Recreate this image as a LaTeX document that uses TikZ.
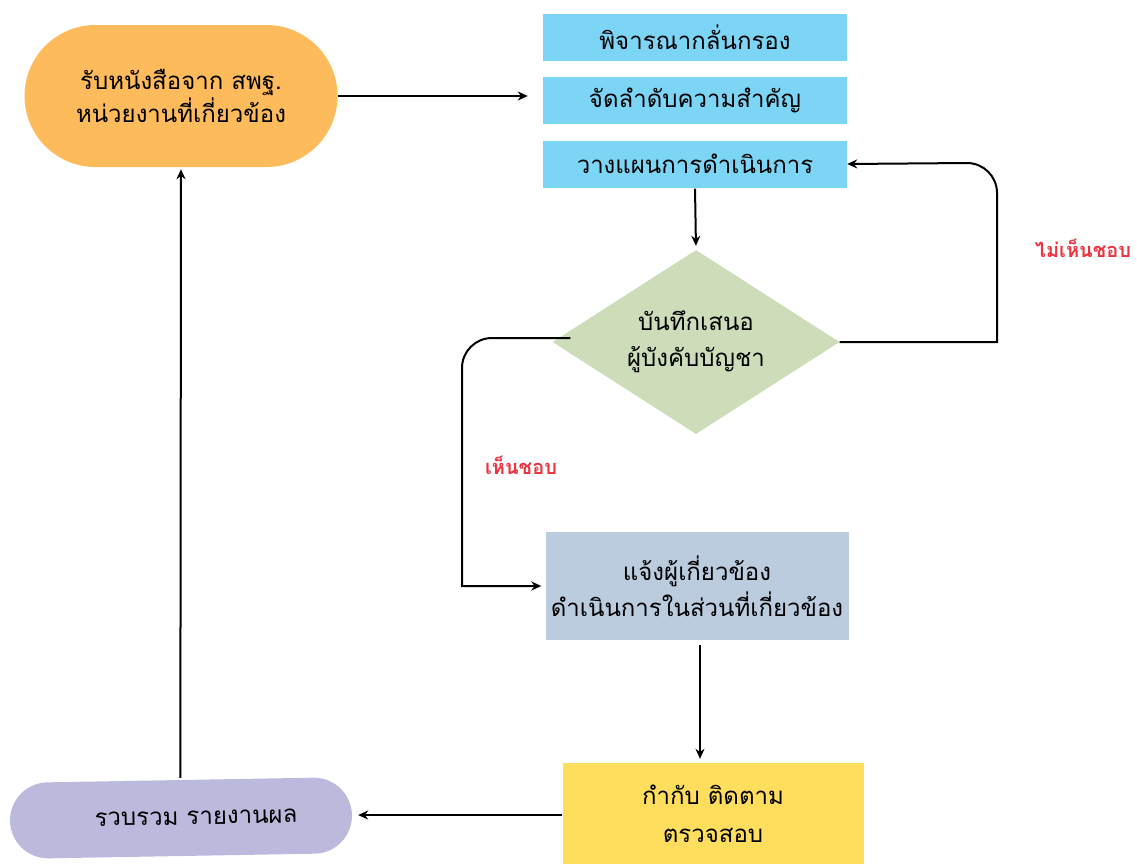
\documentclass[tikz,border=0pt]{standalone}
\usepackage{fontspec}
\setmainfont[Script=Thai]{Loma}
\usetikzlibrary{shapes.geometric, arrows.meta}
\definecolor{orangefill}{HTML}{FDBB5B}
\definecolor{bluefill}{HTML}{7DD5F5}
\definecolor{greenfill}{HTML}{CDDDBA}
\definecolor{greyblue}{HTML}{BCCCDF}
\definecolor{yellowfill}{HTML}{FFDD5D}
\definecolor{purplefill}{HTML}{BBBADD}
\definecolor{redtext}{HTML}{EE3340}
\begin{document}
\begin{tikzpicture}[x=1pt, y=-1pt]
	\tikzstyle{every node} = [font=\fontsize{24}{36}\selectfont, align=center, inner sep=0pt]
	\tikzstyle{stadium} = [rectangle, rounded corners=38pt]
	\tikzstyle{blueblock} = [rectangle, fill=bluefill, minimum width=304pt, minimum height=47pt]
	\tikzstyle{arrow} = [line width=2pt, -{Stealth[length=10pt, width=9pt]}]
	\tikzstyle{answer} = [text=redtext, font=\fontsize{20}{22}\selectfont\bfseries]
	\useasboundingbox (0,0) rectangle (1137,863);
	\node (receive) [stadium, rounded corners=71pt, fill=orangefill, minimum width=313pt, minimum height=142pt] at (181, 96) {รับหนังสือจาก สพฐ.\\[-3pt]หน่วยงานที่เกี่ยวข้อง};
	\node (screen) [blueblock] at (695, 37) {พิจารณากลั่นกรอง};
	\node (rank) [blueblock] at (695, 100) {จัดลำดับความสำคัญ};
	\node (plan) [blueblock] at (695, 164) {วางแผนการดำเนินการ};
	\node (propose) [diamond, aspect=1.56, fill=greenfill, minimum width=287pt, minimum height=184pt] at (696, 342) {บันทึกเสนอ\\ผู้บังคับบัญชา};
	\node (inform) [rectangle, fill=greyblue, minimum width=303pt, minimum height=108pt] at (697, 586) {แจ้งผู้เกี่ยวข้อง\\ดำเนินการในส่วนที่เกี่ยวข้อง};
	\node (monitor) [rectangle, fill=yellowfill, minimum width=301pt, minimum height=102pt] at (713, 814) {กำกับ ติดตาม\\[2pt]ตรวจสอบ};
	\node (report) [stadium, fill=purplefill, minimum width=342pt, minimum height=76pt, rotate=1] at (181, 818) {\hspace*{30pt}รวบรวม รายงานผล};
	\node (notok) [answer] at (1083, 248) {ไม่เห็นชอบ};
	\node (ok) [answer] at (521, 465) {เห็นชอบ};
	\draw [arrow, shorten >=15pt] (receive.east) -- (receive.east -| rank.west);
	\draw [arrow, shorten <=1pt, shorten >=4pt] (plan.south) -- (propose.north);
	\draw [arrow] (propose.east) -- (997, 342) -- (997, 193) arc[start angle=0, end angle=-90, radius=30] -- (plan.east);
	\draw [arrow, shorten >=4pt] ([xshift=18pt, yshift=4pt]propose.west) -- (492, 338) arc[start angle=-90, end angle=-180, radius=30] -- (462, 586) -- (inform.west);
	\draw [arrow, shorten <=5pt, shorten >=4pt] ([xshift=3pt]inform.south) -- ([xshift=3pt]inform.south |- monitor.north);
	\draw [arrow, shorten >=6pt] (monitor.west |- report.east) -- (report.east);
	\draw [arrow, shorten >=2pt] ([yshift=2pt]report.north) -- (receive.south);
\end{tikzpicture}
\end{document}
